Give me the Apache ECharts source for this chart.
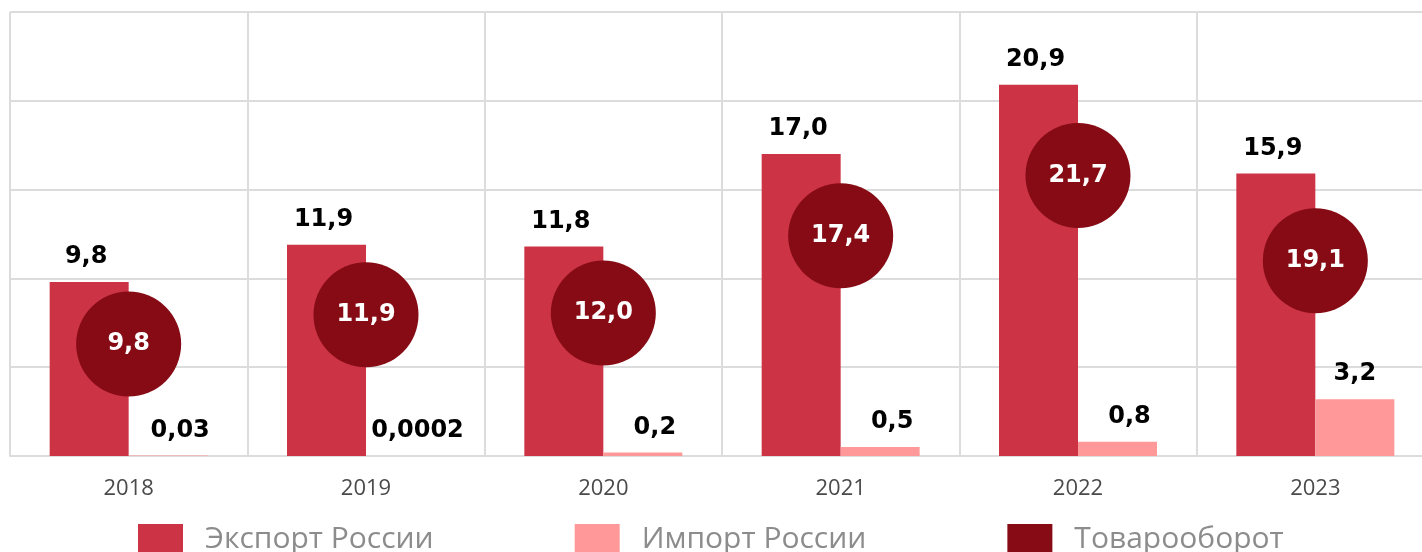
<!DOCTYPE html>
<html>
<head>
<meta charset="utf-8">
<script src="https://cdn.jsdelivr.net/npm/echarts@6/dist/echarts.min.js"></script>
<style>
  html, body { margin: 0; padding: 0; background: #fff; overflow: hidden; }
  #main { width: 1440px; height: 552px; }
</style>
</head>
<body>
<div id="main"></div>
<script>
const years = ['2018', '2019', '2020', '2021', '2022', '2023'];
const exportRu = [9.8, 11.9, 11.8, 17.0, 20.9, 15.9];
const importRu = [0.03, 0.0002, 0.2, 0.5, 0.8, 3.2];
const importLabels = ['0,03', '0,0002', '0,2', '0,5', '0,8', '3,2'];
const turnover = [9.8, 11.9, 12.0, 17.4, 21.7, 19.1];
// where the circles sit on the value axis
const circlePos = [6.3, 7.95, 8.05, 12.4, 15.8, 11.0];

const fmt = v => v.toFixed(1).replace('.', ',');

const myChart = echarts.init(document.getElementById('main'));
const labelFont = {
    fontFamily: 'DejaVu Sans',
    fontWeight: 'bold',
    fontSize: 24
};

const option = {
    animation: false,
    grid: { left: 10, width: 1424, top: 12, bottom: 96 },
    legend: {
        left: 133,
        top: 519,
        itemWidth: 45,
        itemHeight: 30,
        itemGap: 141,
        icon: 'rect',
        textStyle: {
            fontFamily: 'Open Sans',
            fontSize: 30,
            color: '#8c8c8c',
            padding: [0, 0, 0, 17]
        },
        data: ['Экспорт России', 'Импорт России', 'Товарооборот']
    },
    xAxis: {
        type: 'category',
        data: years,
        axisTick: { show: false },
        axisLine: { lineStyle: { color: '#dcdcdc', width: 2 } },
        splitLine: { show: true, lineStyle: { color: '#dcdcdc', width: 2 } },
        axisLabel: {
            margin: 22,
            fontFamily: 'Open Sans',
            fontSize: 22,
            color: '#4a4a4a'
        }
    },
    yAxis: {
        type: 'value',
        min: 0,
        max: 25,
        interval: 5,
        axisLabel: { show: false },
        axisLine: { show: false },
        axisTick: { show: false },
        splitLine: { lineStyle: { color: '#dcdcdc', width: 2 } }
    },
    series: [
        {
            name: 'Экспорт России',
            type: 'bar',
            data: exportRu,
            barWidth: 79,
            barGap: '0%',
            itemStyle: { color: '#cc3344' },
            label: {
                show: true,
                position: 'top',
                distance: 13,
                offset: [-3, 0],
                color: '#000',
                ...labelFont,
                formatter: p => fmt(p.value)
            }
        },
        {
            name: 'Импорт России',
            type: 'bar',
            data: importRu.map((v, i) => ({
                value: v,
                label: { offset: [v < 1 ? 12 : 0, 0] }
            })),
            barWidth: 79,
            itemStyle: { color: '#ff9999' },
            label: {
                show: true,
                position: 'top',
                distance: 13,
                color: '#000',
                ...labelFont,
                formatter: p => importLabels[p.dataIndex]
            }
        },
        {
            name: 'Товарооборот',
            type: 'scatter',
            data: circlePos.map((v, i) => [years[i], v]),
            symbol: 'circle',
            symbolSize: 105,
            z: 5,
            itemStyle: { color: '#860b15', opacity: 1 },
            label: {
                show: true,
                position: 'inside',
                color: '#fff',
                ...labelFont,
                formatter: p => fmt(turnover[p.dataIndex])
            }
        }
    ]
};
myChart.setOption(option);
</script>
</body>
</html>
